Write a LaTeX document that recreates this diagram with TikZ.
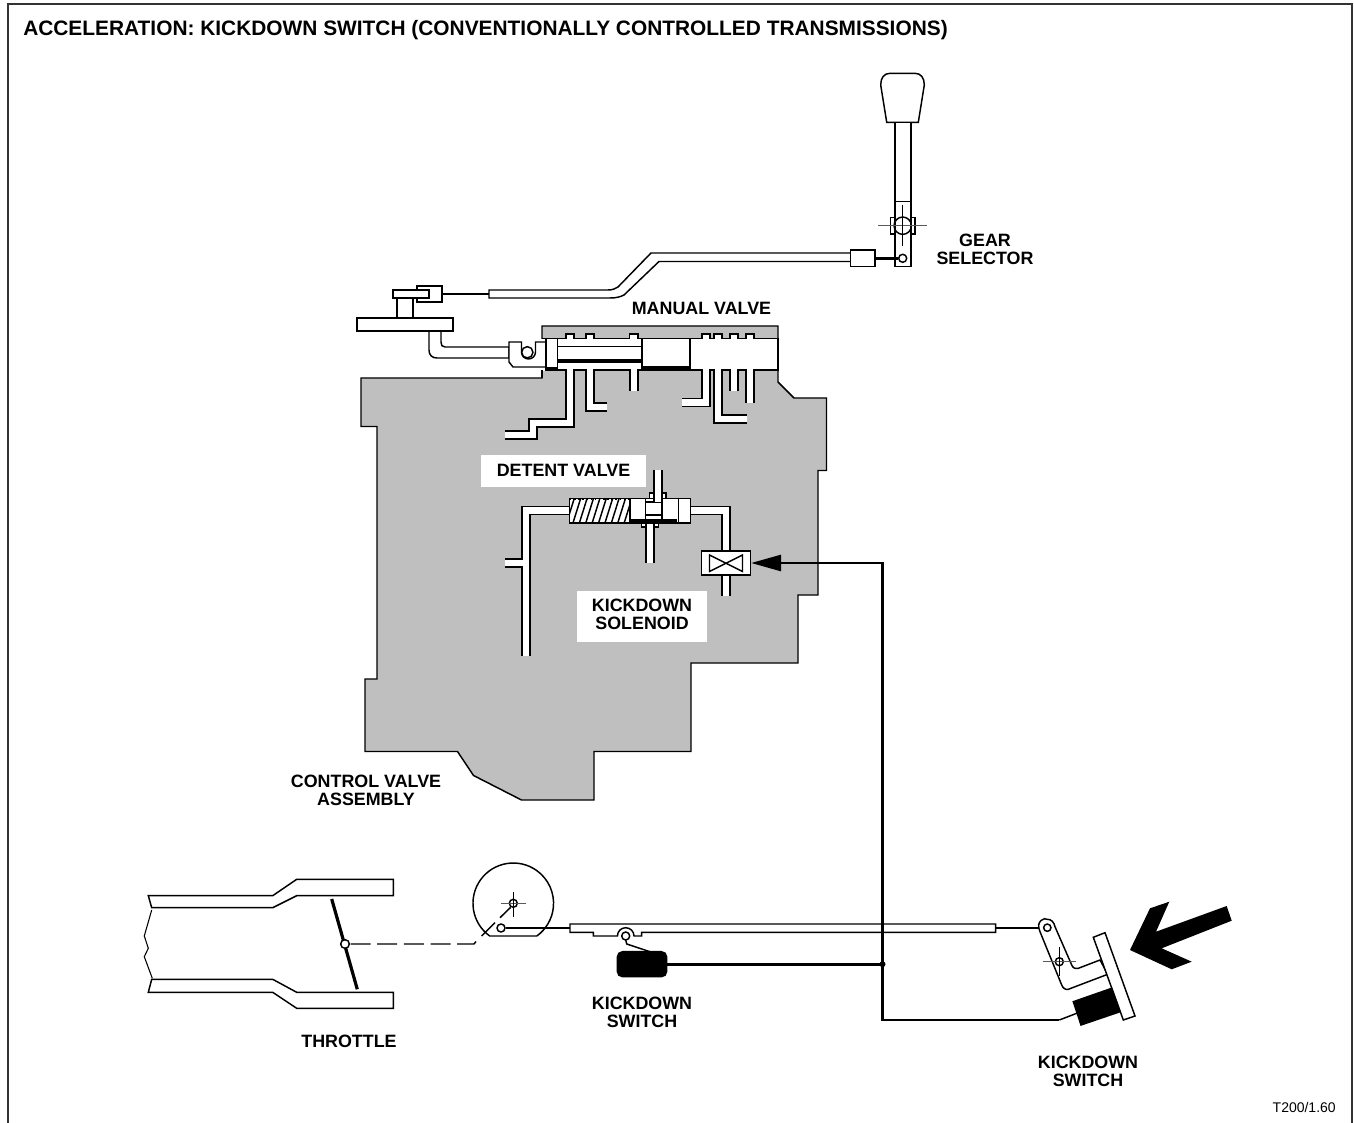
\documentclass[tikz,border=0pt]{standalone}
\usepackage{fontspec}
\setmainfont{Liberation Sans}
\usetikzlibrary{arrows.meta, calc}

\definecolor{valvegray}{gray}{0.75}

\tikzset{
    outline/.style={draw=black, line width=1.1pt, line join=miter},
    part/.style={outline, fill=white},
    solidpart/.style={outline, fill=black},
    duct/.style={draw=black, line width=1.1pt, double=white, double distance=5.1pt, line join=miter},
    wire/.style={draw=black, line width=2.1pt},
    thinlink/.style={draw=black, line width=1.1pt},
    centreline/.style={draw=black!65, line width=1pt},
    callout/.style={font=\fontsize{13.4}{13.5}\selectfont\bfseries, align=center, inner sep=0pt},
}

\begin{document}
\begin{tikzpicture}[x=0.75pt, y=-0.75pt]

    \useasboundingbox (0,0) rectangle (1354,1123);

    % --- 1. FRAME ---
    \draw[line width=0.9pt, black!80] (8,1123) -- (8,4) -- (1352,4) -- (1352,1123);
    \node[callout, font=\fontsize{15.66}{17}\selectfont\bfseries, anchor=west] (title) at (23,30) {ACCELERATION: KICKDOWN SWITCH (CONVENTIONALLY CONTROLLED TRANSMISSIONS)};

    % --- 2. VALVE BODY ---
    \draw[outline, fill=valvegray] (361,378) -- (542,378) -- (542,326) -- (778,326) -- (778,382) -- (794,398) -- (826.5,398)
        -- (826.5,470.5) -- (818,470.5) -- (818,595) -- (798,595) -- (798,663) -- (691,663) -- (691,751.5) -- (594,751.5)
        -- (594,800) -- (521.5,800) -- (473.5,775.5) -- (457.5,751.5) -- (365,751.5) -- (365,679) -- (377,679) -- (377,426.5) -- (361,426.5) -- cycle;

    % manual valve bore
    \fill[white] (546,338.5) rectangle (778,370);
    \fill[white] (538,338.8) rectangle (546,377.2);
    \fill[valvegray] (541.9,370.6) rectangle (546,377.4);
    \draw[outline] (542,338.5) -- (778,338.5) -- (778,370) -- (546,370);
    \draw[outline] (542,370) -- (542,378);
    \foreach \xa/\xb in {566/574, 586/594, 629.5/638, 702/710, 714/722, 730/738, 746/754}{
        \draw[part] (\xa,338.5) -- (\xa,334) -- (\xb,334) -- (\xb,338.5);
        \fill[white] (\xa+0.7,334.8) rectangle (\xb-0.7,339.5);
    }
    \draw[part] (642,338.5) rectangle (690,368);
    \fill[black] (642,366) rectangle (690,370);
    \draw[thinlink] (557,346.5) -- (642,346.5);
    \fill[black] (557,359) rectangle (642,363);

    % galleries under the manual valve
    \draw[duct] (570,369.5) -- (570,423) -- (533,423) -- (533,435) -- (505,435);
    \draw[duct] (590,369.5) -- (590,407) -- (607,407);
    \draw[duct] (634,369.5) -- (634,391);
    \draw[duct] (706,369.5) -- (706,402.5) -- (682,402.5);
    \draw[duct] (718,369.5) -- (718,419) -- (747,419);
    \draw[duct] (734,369.5) -- (734,391);
    \draw[duct] (750,369.5) -- (750,403);

    % linkage to the manual valve
    \draw[part] (429,331) -- (429,350) .. controls (429,355) and (432,358) .. (437,358) -- (509,358)
        -- (509,347) -- (445,347) .. controls (442,347) and (441,345) .. (441,342) -- (441,331) -- cycle;
    \draw[part] (509,342) -- (521.5,342) -- (521.5,352) arc (180:0:7 and 7) -- (535.5,342) -- (546,342) -- (546,367) -- (513,367) -- (509,362) -- cycle;
    \node[circle, part, inner sep=0pt, minimum size=8.5pt] (clevispin) at (527.3,352.3) {};
    \draw[part] (546,338.5) rectangle (557.5,370);
    \fill[black] (546,367) rectangle (557.5,370);
    \draw[part] (397,298) rectangle (413,318);
    \draw[part] (417,286) rectangle (442,302);
    \draw[part] (393,290) rectangle (429,298);
    \draw[part] (357,318) rectangle (453,331);

    % selector cable
    \coordinate (cableend) at (489,294);
    \coordinate (linkend) at (442,294);
    \draw[wire] (linkend) -- (cableend);
    \draw[part] (489,290) -- (608,290) .. controls (612,290) and (615,289) .. (618,287) -- (651,253) -- (851,253)
        -- (851,261.5) -- (659,261.5) -- (624,295) .. controls (620,297) and (616,298) .. (610,298) -- (489,298) -- cycle;

    % --- 3. DETENT VALVE ---
    \draw[duct] (570,510.5) -- (526,510.5) -- (526,655.5);
    \draw[duct] (505,563) -- (522,563);
    \fill[white] (521,560) rectangle (524,566);
    \draw[duct] (690,510.5) -- (726,510.5) -- (726,595.5);

    \draw[part] (569.5,498.5) rectangle (690.5,523);
    \begin{scope}
        \clip (570,499) rectangle (630,522.5);
        \foreach \i in {0,6.4,...,70}{
            \draw[line width=1.1pt] (560+\i,523.5) -- (568+\i,498);
        }
    \end{scope}
    \draw[outline, dotted] (570,499) -- (630,499);
    \draw[outline] (630,498.5) -- (630,523);
    \draw[outline] (645.5,498.5) -- (645.5,523);
    \draw[outline] (662,498.5) -- (662,523);
    \draw[outline] (678.5,498.5) -- (678.5,523);
    \draw[outline] (645.5,502) -- (662,502);
    \draw[outline] (645.5,515) -- (662,515);
    \fill[black] (630,518.5) rectangle (677,521.7);

    \draw[part] (649.5,493) rectangle (666,498.5);
    \draw[duct] (658,470) -- (658,502);
    \draw[part] (641.7,523) rectangle (658.3,527);
    \draw[duct] (650,524) -- (650,563);

    % --- 4. SOLENOID ---
    \node[part, inner sep=0pt, minimum width=36.6pt, minimum height=18.2pt] (solenoid) at (726,563) {};
    \draw[thinlink] (709.5,555) -- (709.5,571.5) -- (742.5,555) -- (742.5,571.5) -- cycle;

    % --- 5. LABELS ---
    \node[callout, fill=white, minimum width=123.75pt, minimum height=24pt] (detentlabel) at (563.5,470.5) {DETENT VALVE};
    \fill[white] (577,591) rectangle (706.5,642);
    \node[callout] (solenoidlabel) at (642,614) {KICKDOWN\\SOLENOID};
    \node[callout] (gearlabel) at (985,249) {GEAR\\SELECTOR};
    \node[callout] (manuallabel) at (701.5,308) {MANUAL VALVE};
    \node[callout] (bodylabel) at (366,790) {CONTROL VALVE\\ASSEMBLY};
    \node[callout] (throttlelabel) at (349,1041) {THROTTLE};
    \node[callout] (switchlabel) at (642,1012) {KICKDOWN\\SWITCH};
    \node[callout] (pedallabel) at (1088,1071.5) {KICKDOWN\\SWITCH};
    \node[font=\fontsize{10.5}{12}\selectfont, inner sep=0pt, anchor=east] (reflabel) at (1336,1107) {T200/1.60};

    % --- 6. GEAR SELECTOR ---
    \draw[part] (886.7,122.3) -- (880.7,85) .. controls (880.7,78) and (884,73.3) .. (890,73.3)
        -- (915,73.3) .. controls (921,73.3) and (924.3,78) .. (924.3,85) -- (918.3,122.3) -- cycle;
    \draw[part] (895,122.3) rectangle (911,266.7);
    \draw[outline] (895,201.7) -- (911,201.7);
    \draw[outline] (895,217.3) -- (890.7,217.3) -- (890.7,234) -- (895,234);
    \draw[outline] (911,217.3) -- (915,217.3) -- (915,234) -- (911,234);
    \node[circle, draw=black, line width=1.1pt, inner sep=0pt, minimum size=13pt] (selectorhub) at (902.7,225.7) {};
    \draw[centreline] (878,225.7) -- (927,225.7);
    \draw[thinlink] (902.7,205) -- (902.7,246);
    \node[part, inner sep=0pt, minimum width=18.2pt, minimum height=12.5pt] (sleeve) at (862.8,258.3) {};
    \node[circle, part, inner sep=0pt, minimum size=6pt] (selectorpin) at (902.7,258.3) {};
    \draw[wire] (sleeve) -- (selectorpin);

    % --- 7. THROTTLE ---
    \draw[part] (148.3,895.7) -- (272.7,895.7) -- (296.7,879.3) -- (393.3,879.3) -- (393.3,895.7) -- (296.7,895.7) -- (272.7,907.7) -- (151.7,907.7) -- cycle;
    \draw[part] (151.7,979.3) -- (272.7,979.3) -- (296.7,992.3) -- (393.3,992.3) -- (393.3,1008.3) -- (296.7,1008.3) -- (272.7,992.3) -- (148.3,992.3) -- cycle;
    \draw[line width=0.8pt] (151.7,910) -- (144.3,936) -- (148.3,948.3) -- (144.3,956.7) -- (152.3,978.3);
    \draw[line width=2.4pt] (331.7,899) -- (357.3,989.3);
    \draw[thinlink, dash pattern=on 15pt off 5pt] (476,941.5) -- (474,944) -- (349,944);
    \node[circle, part, inner sep=0pt, minimum size=6.5pt] (throttlepin) at (345,944) {};

    % --- 8. THROTTLE CAM AND CABLE ---
    \draw[thinlink] (489.7,936) arc (125.8:414.2:40.3) -- cycle;
    \node[circle, draw=black, line width=1.1pt, inner sep=0pt, minimum size=6pt] (camhub) at (513.3,903.3) {};
    \draw[centreline] (501,903.3) -- (525.7,903.3);
    \draw[thinlink] (513.3,891.7) -- (513.3,916.7);
    \draw[thinlink] (500,917.7) -- (510.7,907.3);
    \draw[thinlink] (481.7,936) -- (495,922.7);
    \node[circle, part, inner sep=0pt, minimum size=6pt] (campin) at (501,928) {};

    \draw[part] (570,924) -- (995.7,924) -- (995.7,932.3) -- (641.7,932.3) -- (641.7,936) -- (634,936) arc (0:-180:8.3)
        -- (593.3,936) -- (593.3,932.3) -- (570,932.3) -- cycle;
    \coordinate (rodstart) at (570,928);
    \coordinate (rodend) at (995.7,928);
    \draw[wire] (campin) -- (rodstart);
    \node[circle, part, inner sep=0pt, minimum size=6pt] (rodpin) at (625.7,936) {};
    \draw[thinlink] (625.7,940) -- (626.7,944) -- (650,951.7);
    \node[solidpart, rounded corners=4pt, inner sep=0pt, minimum width=37pt, minimum height=18.8pt] (rodswitch) at (642,964.2) {};

    % --- 9. PEDAL ---
    \coordinate (armtop) at (1039,928);
    \draw[wire] (rodend) -- (armtop);
    \draw[part] (1040,931.7) .. controls (1035,921) and (1045,917) .. (1047,919.3) .. controls (1051,919) and (1054,922) .. (1055,926.7)
        -- (1071.7,965) .. controls (1073,968) and (1075,969) .. (1078.3,968.3) -- (1100,960) -- (1107.7,974.3) -- (1068.3,989.3)
        .. controls (1065,990) and (1063,988) .. (1061.7,985) -- cycle;
    \node[circle, part, inner sep=0pt, minimum size=5.5pt] (armpin) at (1047.3,927.7) {};
    \draw[part] (1093.3,937.3) -- (1105,932.7) -- (1135,1016) -- (1123.3,1020) -- cycle;
    \node[circle, draw=black, line width=1.1pt, inner sep=0pt, minimum size=6pt] (armhub) at (1059.3,961.7) {};
    \draw[centreline] (1042.7,961.7) -- (1075.7,961.7);
    \draw[thinlink] (1059.3,947.3) -- (1059.3,976);
    \draw[solidpart] (1073.3,1001.7) -- (1111.7,988.3) -- (1120,1011.7) -- (1081,1025) -- cycle;
    \fill[black] (1130,950) -- (1150,908.3) -- (1169.3,901.7) -- (1156,931.7) -- (1226.7,906) -- (1231.7,920.7)
        -- (1161.7,948.3) -- (1191.7,961.7) -- (1171.7,969.3) -- cycle;

    % --- 10. WIRING ---
    \coordinate (junction) at (882.5,964.2);
    \coordinate (topturn) at (882.5,563);
    \coordinate (lowturn) at (882.5,1020);
    \coordinate (pedalwire) at (1059.3,1020);
    \coordinate (pedalblock) at (1076.7,1013.3);
    \draw[wire] (rodswitch) -- (junction);
    \fill (junction) circle (3);
    \draw[wire, line join=miter, -{Triangle[length=22.5pt, width=12pt]}] (pedalwire) -- (lowturn) -- (topturn) -- (solenoid);
    \draw[thinlink] (pedalwire) -- (pedalblock);

\end{tikzpicture}
\end{document}
